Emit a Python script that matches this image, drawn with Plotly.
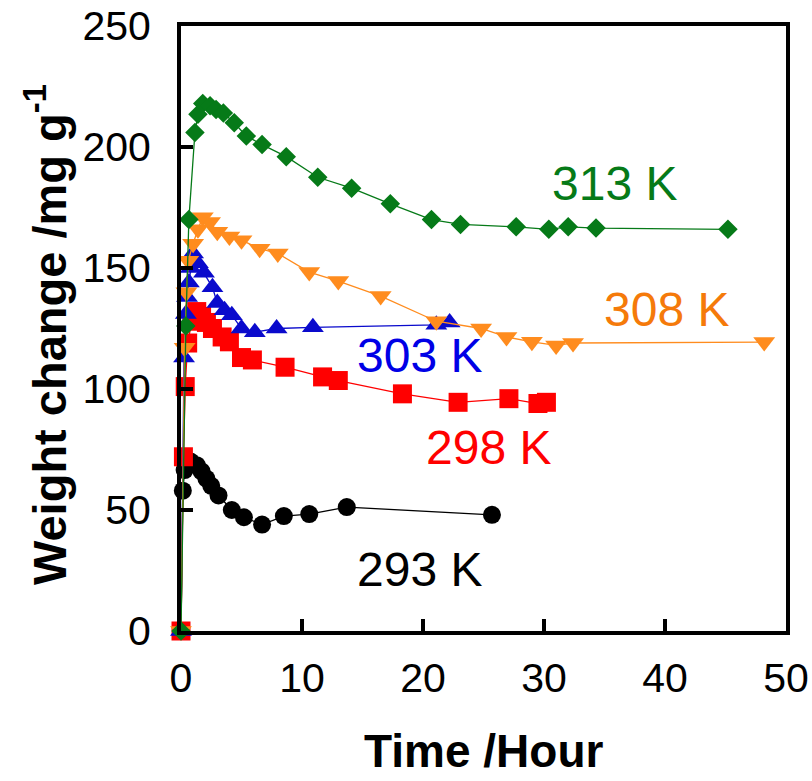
import plotly.graph_objects as go

# Weight change during sorption at five temperatures
t_293 = [0, 0.15, 0.3, 0.8, 1.3, 1.7, 2.1, 2.5, 3.1, 4.2, 5.2, 6.7, 8.5, 10.6, 13.7, 25.7]
w_293 = [0, 58, 66.5, 70, 68.5, 66, 63, 60, 56, 50, 47, 44, 47.5, 48.3, 51.2, 48]

t_298 = [0, 0.2, 0.35, 0.55, 0.9, 1.3, 1.7, 2.1, 2.6, 3.4, 4.0, 5.0, 5.9, 8.6, 11.7, 13.0, 18.3, 22.9, 27.1, 29.5, 30.2]
w_298 = [0, 72, 101, 119, 128, 132, 130, 127.5, 125, 121.5, 119.5, 113, 112, 109, 105, 103.5, 98, 94.5, 96, 94, 94.5]

t_303 = [0, 0.25, 0.4, 0.5, 0.65, 0.8, 1.0, 1.4, 1.9, 2.6, 3.0, 3.6, 4.2, 5.0, 6.1, 7.9, 10.9, 21.1, 22.2]
w_303 = [0, 113, 131, 138, 144, 150, 156, 152, 148, 142, 135.5, 132.5, 130.5, 125, 123.5, 125, 125.5, 126.5, 127.5]

t_308 = [0, 0.3, 0.45, 0.6, 1.0, 1.4, 1.8, 2.4, 3.0, 4.0, 5.0, 6.5, 8.0, 10.6, 13.0, 16.5, 21.1, 24.8, 26.9, 29.0, 31.0, 32.4, 48.2]
w_308 = [0, 117, 140, 153, 160, 166, 171, 169, 165, 163, 161.5, 158, 156, 148.3, 144.6, 138.4, 128, 125, 121.5, 119.5, 118, 119, 119.4]

t_313 = [0, 0.4, 0.65, 1.15, 1.4, 1.8, 2.4, 2.9, 3.5, 4.4, 5.4, 6.7, 8.7, 11.3, 14.1, 17.3, 20.7, 23.1, 27.7, 30.4, 32.0, 34.3, 45.2]
w_313 = [0, 126, 170, 206, 213.5, 218, 217, 215.5, 214, 210, 204.5, 201, 196, 187.5, 183, 176.5, 170, 168, 167, 166, 167, 166.5, 166]

labels = ["293 K", "298 K", "303 K", "308 K", "313 K"]
label_x = [19.7, 25.4, 19.7, 40.1, 35.8]
label_y = [25.6, 76, 114, 133, 185]

x_ticks = [0, 10, 20, 30, 40, 50]
y_ticks = [0, 50, 100, 150, 200, 250]

FONT = "Liberation Sans, Arial, sans-serif"

series = [
    (t_293, w_293, "circle", 18, "#000000", "#000000"),
    (t_298, w_298, "square", 19, "#FF0000", "#FF0000"),
    (t_303, w_303, "triangle-up", 19, "#0A0ACC", "#0000E6"),
    (t_308, w_308, "triangle-down", 19, "#FF8C1E", "#F57A0A"),
    (t_313, w_313, "diamond", 15, "#067A18", "#067A18"),
]

fig = go.Figure()
for (tx, wy, sym, sz, col, _), name in zip(series, labels):
    fig.add_trace(go.Scatter(
        x=tx, y=wy, name=name, mode="lines+markers",
        line=dict(color=col, width=1.3),
        marker=dict(symbol=sym, size=sz, color=col, line=dict(width=0)),
        cliponaxis=False, showlegend=False,
    ))

for (_, _, _, _, _, tcol), name, lx, ly in zip(series, labels, label_x, label_y):
    fig.add_annotation(x=lx, y=ly, xref="x", yref="y", text=name, showarrow=False,
                       font=dict(family=FONT, size=48, color=tcol),
                       xanchor="center", yanchor="middle")

fig.add_annotation(x=0.5, y=-0.198, xref="paper", yref="paper", text="<b>Time /Hour</b>",
                   showarrow=False, font=dict(family=FONT, size=46, color="#000000"),
                   xanchor="center", yanchor="middle")
fig.add_annotation(x=-0.224, y=0.49, xref="paper", yref="paper",
                   text="<b>Weight change /mg g<sup>-1</sup></b>", textangle=-90,
                   showarrow=False, font=dict(family=FONT, size=47, color="#000000"),
                   xanchor="center", yanchor="middle")

axis_common = dict(
    showline=True, linecolor="#000000", linewidth=4, mirror=True,
    ticks="inside", ticklen=12, tickwidth=4, tickcolor="#000000",
    showgrid=False, zeroline=False, automargin=False,
    tickfont=dict(family=FONT, size=41, color="#000000"),
)

fig.update_xaxes(range=[0, 50], tickvals=x_ticks, ticklabelstandoff=8, **axis_common)
fig.update_yaxes(range=[0, 250], tickvals=y_ticks, ticklabelstandoff=18, **axis_common)

fig.update_layout(
    width=812, height=781,
    margin=dict(l=181, r=26, t=26, b=150),
    paper_bgcolor="#FFFFFF", plot_bgcolor="#FFFFFF",
)

fig.write_html("out.html")
